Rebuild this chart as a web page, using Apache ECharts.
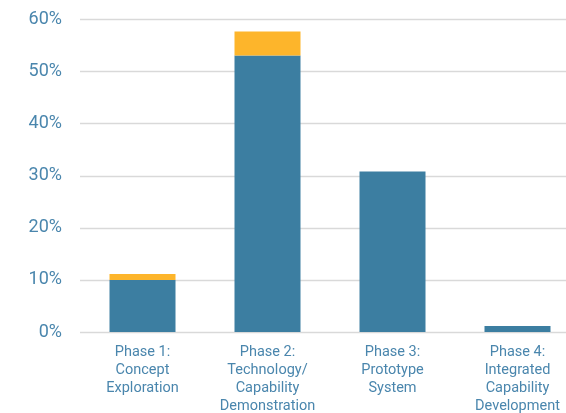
<!DOCTYPE html>
<html><head><meta charset="utf-8">
<script src="https://cdn.jsdelivr.net/npm/echarts@6/dist/echarts.min.js"></script>
<style>html,body{margin:0;padding:0;background:#fff}#c{width:566px;height:413px}</style>
</head><body><div id="c"></div>
<script>
var categories = ['Phase 1:\nConcept\nExploration', 'Phase 2:\nTechnology/\nCapability\nDemonstration', 'Phase 3:\nPrototype\nSystem', 'Phase 4:\nIntegrated\nCapability\nDevelopment'];
var baseValues = [10.0, 53.1, 30.8, 1.15];
var topValues = [1.15, 4.6, 0, 0];
var yTicks = [0, 10, 20, 30, 40, 50, 60];

var chart = echarts.init(document.getElementById('c'));
chart.setOption({
  animation: false,
  grid: { left: 80, top: 19.5, width: 500, height: 312.5, outerBoundsMode: 'none', containLabel: false },
  xAxis: {
    type: 'category', data: categories,
    axisLine: { show: false }, axisTick: { show: false },
    axisLabel: { color: '#4a86ad', fontFamily: 'Roboto', fontSize: 14.5, lineHeight: 17.7, margin: 12, interval: 0 }
  },
  yAxis: {
    type: 'value', min: yTicks[0], max: yTicks[yTicks.length - 1], interval: 10,
    axisLine: { show: false }, axisTick: { show: false },
    splitLine: { lineStyle: { color: '#d9d9d9', width: 1.3 } },
    axisLabel: { color: '#4a86ad', fontFamily: 'Roboto', fontSize: 18, margin: 18, formatter: '{value}%' }
  },
  series: [
    { type: 'bar', stack: 's', data: baseValues, barWidth: 66, itemStyle: { color: '#3c7ea1' } },
    { type: 'bar', stack: 's', data: topValues, barWidth: 66, itemStyle: { color: '#fdb52b' } }
  ]
});
</script></body></html>
